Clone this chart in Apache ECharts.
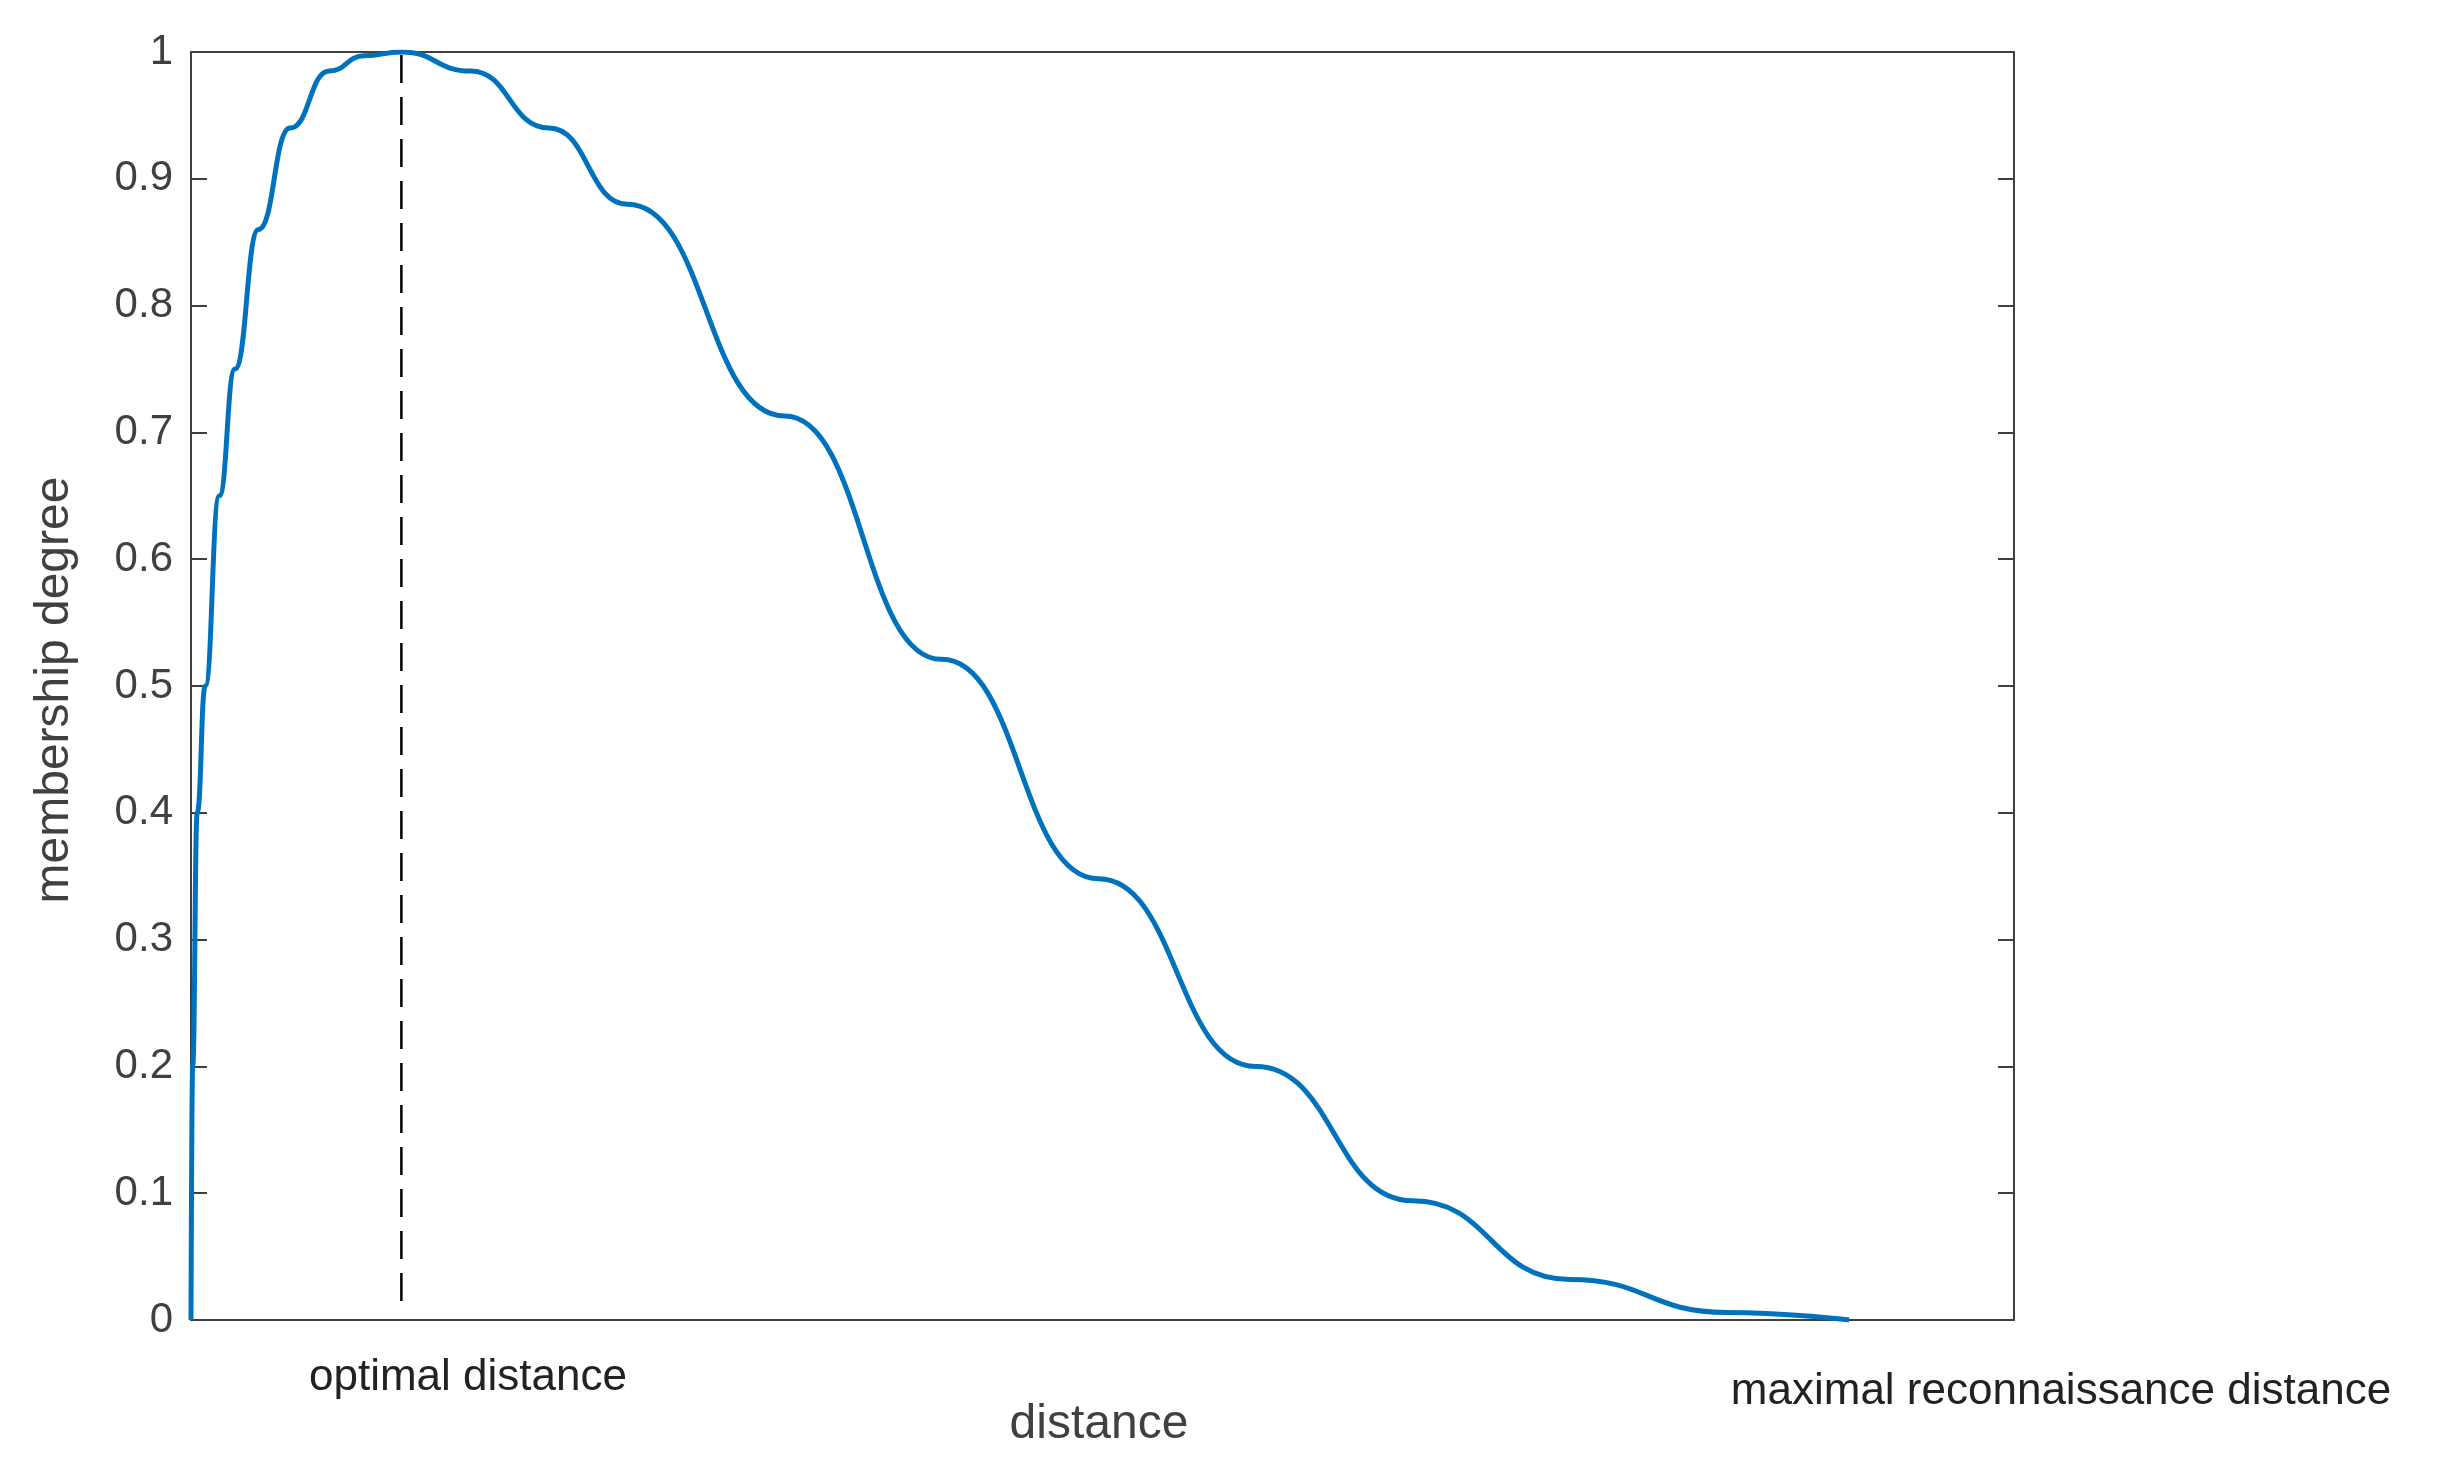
<!DOCTYPE html>
<html>
<head>
<meta charset="utf-8">
<script src="https://cdn.jsdelivr.net/npm/echarts@6/dist/echarts.min.js"></script>
<style>html,body{margin:0;background:#fff}#c{width:2461px;height:1474px}</style>
</head>
<body>
<div id="c"></div>
<script>
// curve: x as fraction of the axis span, y membership degree
var xs = [0, 0.0009, 0.0034, 0.0078, 0.0155, 0.0241, 0.037, 0.0543, 0.0758, 0.095, 0.1154, 0.1533, 0.1964, 0.2394, 0.3256, 0.4117, 0.4978, 0.584, 0.6701, 0.7562, 0.8424, 0.9096];
var ys = [0, 0.2, 0.4, 0.5, 0.65, 0.75, 0.86, 0.94, 0.985, 0.997, 1.0, 0.985, 0.94, 0.88, 0.713, 0.521, 0.348, 0.2, 0.094, 0.032, 0.006, 0];
var optimalX = 0.1154;

var txt = '#404040';
var font = 'Arial, "Liberation Sans", sans-serif';
var chart = echarts.init(document.getElementById('c'));
var pts = xs.map(function (x, i) { return [x, ys[i]]; });

var yAx = function (pos) {
  return {
    type: 'value', min: 0, max: 1, interval: 0.1, position: pos,
    axisLine: {show: true, onZero: false, lineStyle: {color: txt, width: 2}},
    axisTick: {show: true, inside: true, length: 16, lineStyle: {color: txt, width: 2}},
    axisLabel: {show: pos === 'left', fontSize: 42, color: txt, fontFamily: font, margin: 18,
      formatter: function (v) { return String(Math.round(v * 10) / 10); }},
    splitLine: {show: false}
  };
};
var xAx = function (pos) {
  return {type: 'value', min: 0, max: 1, position: pos,
    axisLine: {show: true, onZero: false, lineStyle: {color: txt, width: 2}},
    axisTick: {show: false}, axisLabel: {show: false}, splitLine: {show: false}};
};

chart.setOption({
  animation: false,
  grid: {left: 191, top: 52, width: 1823, height: 1268},
  xAxis: [xAx('bottom'), xAx('top')],
  yAxis: [yAx('left'), yAx('right')],
  series: [
    {type: 'line', data: pts, smooth: true, smoothMonotone: 'x', showSymbol: false,
     lineStyle: {color: '#0072BD', width: 5}},
    {type: 'line', data: [[optimalX, 0.015], [optimalX, 1]], showSymbol: false,
     lineStyle: {color: '#000', width: 2.5, type: [28, 14]}}
  ],
  graphic: [
    {type: 'text', x: 468, y: 1378, style: {text: 'optimal distance', fontSize: 44, fill: '#222', fontFamily: font, align: 'center', verticalAlign: 'middle'}},
    {type: 'text', x: 2061, y: 1392, style: {text: 'maximal reconnaissance distance', fontSize: 44, fill: '#222', fontFamily: font, align: 'center', verticalAlign: 'middle'}},
    {type: 'text', x: 1099, y: 1425, style: {text: 'distance', fontSize: 48, fill: txt, fontFamily: font, align: 'center', verticalAlign: 'middle'}},
    {type: 'text', x: 55, y: 690, rotation: Math.PI / 2, style: {text: 'membership degree', fontSize: 48, fill: txt, fontFamily: font, align: 'center', verticalAlign: 'middle'}}
  ]
});
</script>
</body>
</html>
